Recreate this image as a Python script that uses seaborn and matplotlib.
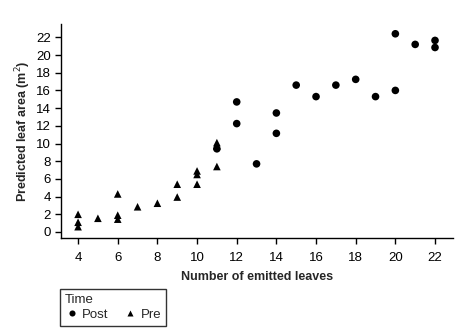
import matplotlib
matplotlib.use("Agg")
import matplotlib.pyplot as plt
import seaborn as sns
import pandas as pd

post_x = [11, 12, 12, 13, 14, 14, 15, 16, 17, 18, 19, 20, 20, 21, 22, 22]
post_y = [9.4, 14.7, 12.25, 7.7, 13.45, 11.15, 16.6, 15.3, 16.6, 17.25, 15.3, 22.4, 16.0, 21.2, 21.65, 20.85]
pre_x = [4, 4, 4, 5, 6, 6, 6, 7, 8, 9, 9, 10, 10, 10, 11, 11, 11]
pre_y = [2.0, 1.1, 0.6, 1.55, 4.3, 1.9, 1.45, 2.85, 3.25, 5.4, 3.95, 6.9, 6.5, 5.4, 10.1, 9.75, 7.4]
x_ticks = [4, 6, 8, 10, 12, 14, 16, 18, 20, 22]
y_ticks = [0, 2, 4, 6, 8, 10, 12, 14, 16, 18, 20, 22]

df = pd.DataFrame({
    "x": post_x + pre_x,
    "y": post_y + pre_y,
    "Time": ["Post"] * len(post_x) + ["Pre"] * len(pre_x),
})

sns.set_style("ticks")
plt.rcParams["font.family"] = ["Liberation Sans", "DejaVu Sans"]

fig = plt.figure(figsize=(4.64, 3.34), dpi=100)
ax = fig.add_axes([0.1315, 0.2874, 0.8445, 0.6406])
sns.scatterplot(data=df, x="x", y="y", style="Time", markers={"Post": "o", "Pre": "^"},
                color="black", s=30, edgecolor="none", ax=ax)

ax.set_xlim(3.14, 22.9)
ax.set_ylim(-0.68, 23.5)
ax.set_xticks(x_ticks)
ax.set_yticks(y_ticks)
ax.tick_params(axis="both", labelsize=9.5, length=4, width=1, color="black", labelcolor="black")
ax.tick_params(axis="x", pad=6)
ax.set_xlabel("Number of emitted leaves", fontsize=9, fontweight="bold", labelpad=5)
ax.set_ylabel("Predicted leaf area (m$^2$)", fontsize=9, fontweight="bold", labelpad=2)
for side in ["top", "right"]:
    ax.spines[side].set_visible(False)
for side in ["left", "bottom"]:
    ax.spines[side].set_color("black")
    ax.spines[side].set_linewidth(1)

sns.move_legend(ax, "upper left", bbox_to_anchor=(-0.003, -0.238), ncol=2, title="Time",
                frameon=True, fontsize=9.5, title_fontsize=9.5, handletextpad=0.3,
                columnspacing=1.1, borderpad=0.4, borderaxespad=0, handlelength=1.0,
                markerscale=0.8, labelspacing=0.2)
leg = ax.get_legend()
leg._legend_box.align = "left"
leg.get_frame().set_edgecolor("black")
leg.get_frame().set_linewidth(1)
leg.get_frame().set_boxstyle("square", pad=0)

fig.savefig("out.png", dpi=100)
